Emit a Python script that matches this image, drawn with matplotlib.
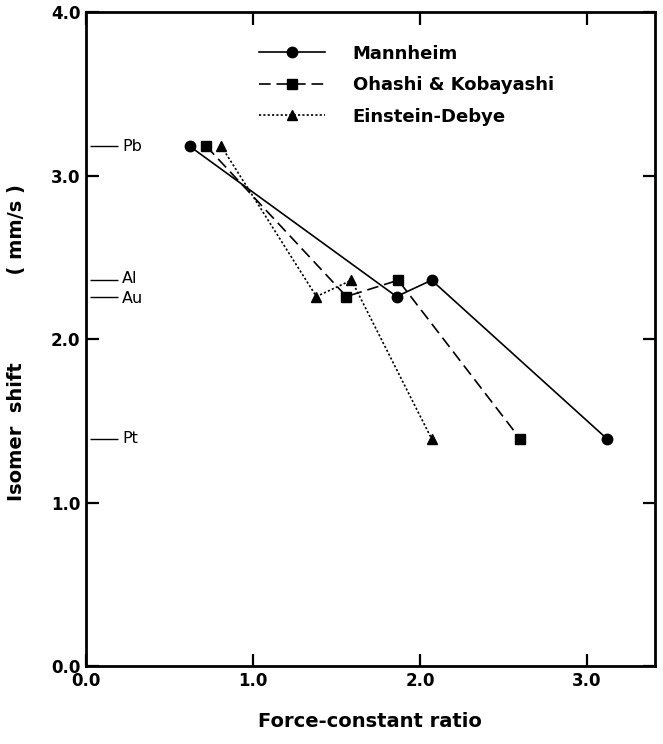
import matplotlib
matplotlib.use("Agg")
import matplotlib.pyplot as plt

# elements (reference markers on the y axis) and their isomer shifts
elements = ["Pb", "Au", "Al", "Pt"]
isomer_shift = [3.18, 2.26, 2.36, 1.39]

# force-constant ratios per model, same element order
mannheim_x = [0.62, 1.86, 2.07, 3.12]
ohashi_x = [0.72, 1.56, 1.87, 2.60]
einstein_x = [0.81, 1.38, 1.59, 2.07]

plt.rcParams['font.family'] = ['DejaVu Sans']

fig = plt.figure(figsize=(6.63, 7.44), dpi=100)
ax = fig.add_axes([0.1297, 0.1048, 0.858, 0.879])

ax.plot(mannheim_x, isomer_shift, color='black', lw=1.2, ls='-',
        marker='o', ms=7.5, label='Mannheim')
ax.plot(ohashi_x, isomer_shift, color='black', lw=1.2, ls=(0, (7, 3.5)),
        marker='s', ms=6.5, label='Ohashi & Kobayashi')
ax.plot(einstein_x, isomer_shift, color='black', lw=1.2, ls=(0, (1.3, 1.3)),
        marker='^', ms=7.5, label='Einstein-Debye')

# element marks at the left edge
ax.hlines(isomer_shift, 0.025, 0.19, color='black', lw=1.0)
for name, y in zip(elements, isomer_shift):
    dy = -0.015 if name == "Au" else (0.01 if name == "Al" else 0.0)
    ax.text(0.215, y + dy, name, fontsize=11.5, va='center', ha='left')

ax.set_xlim(0, 3.407)
ax.set_ylim(0, 4)
ax.set_xticks([0, 1, 2, 3])
ax.set_yticks([0, 1, 2, 3, 4])
ax.set_xticklabels(['0.0', '1.0', '2.0', '3.0'], fontweight='bold', fontsize=12)
ax.set_yticklabels(['0.0', '1.0', '2.0', '3.0', '4.0'], fontweight='bold', fontsize=12)
ax.tick_params(direction='in', length=9, width=1.6, top=True, right=True, pad=4)
for s in ax.spines.values():
    s.set_linewidth(2.0)

ax.set_xlabel('Force-constant ratio', fontsize=14, fontweight='bold', labelpad=16)
ax.set_ylabel('Isomer  shift             ( mm/s )', fontsize=14, fontweight='bold')
ax.yaxis.set_label_coords(-0.105, 0.495)

leg = ax.legend(loc='upper left', bbox_to_anchor=(0.275, 0.975), frameon=False,
                fontsize=13, handlelength=3.7, handletextpad=1.5, labelspacing=0.75)
for t in leg.get_texts():
    t.set_fontweight('bold')

fig.savefig('out.png', dpi=100, facecolor='white')
